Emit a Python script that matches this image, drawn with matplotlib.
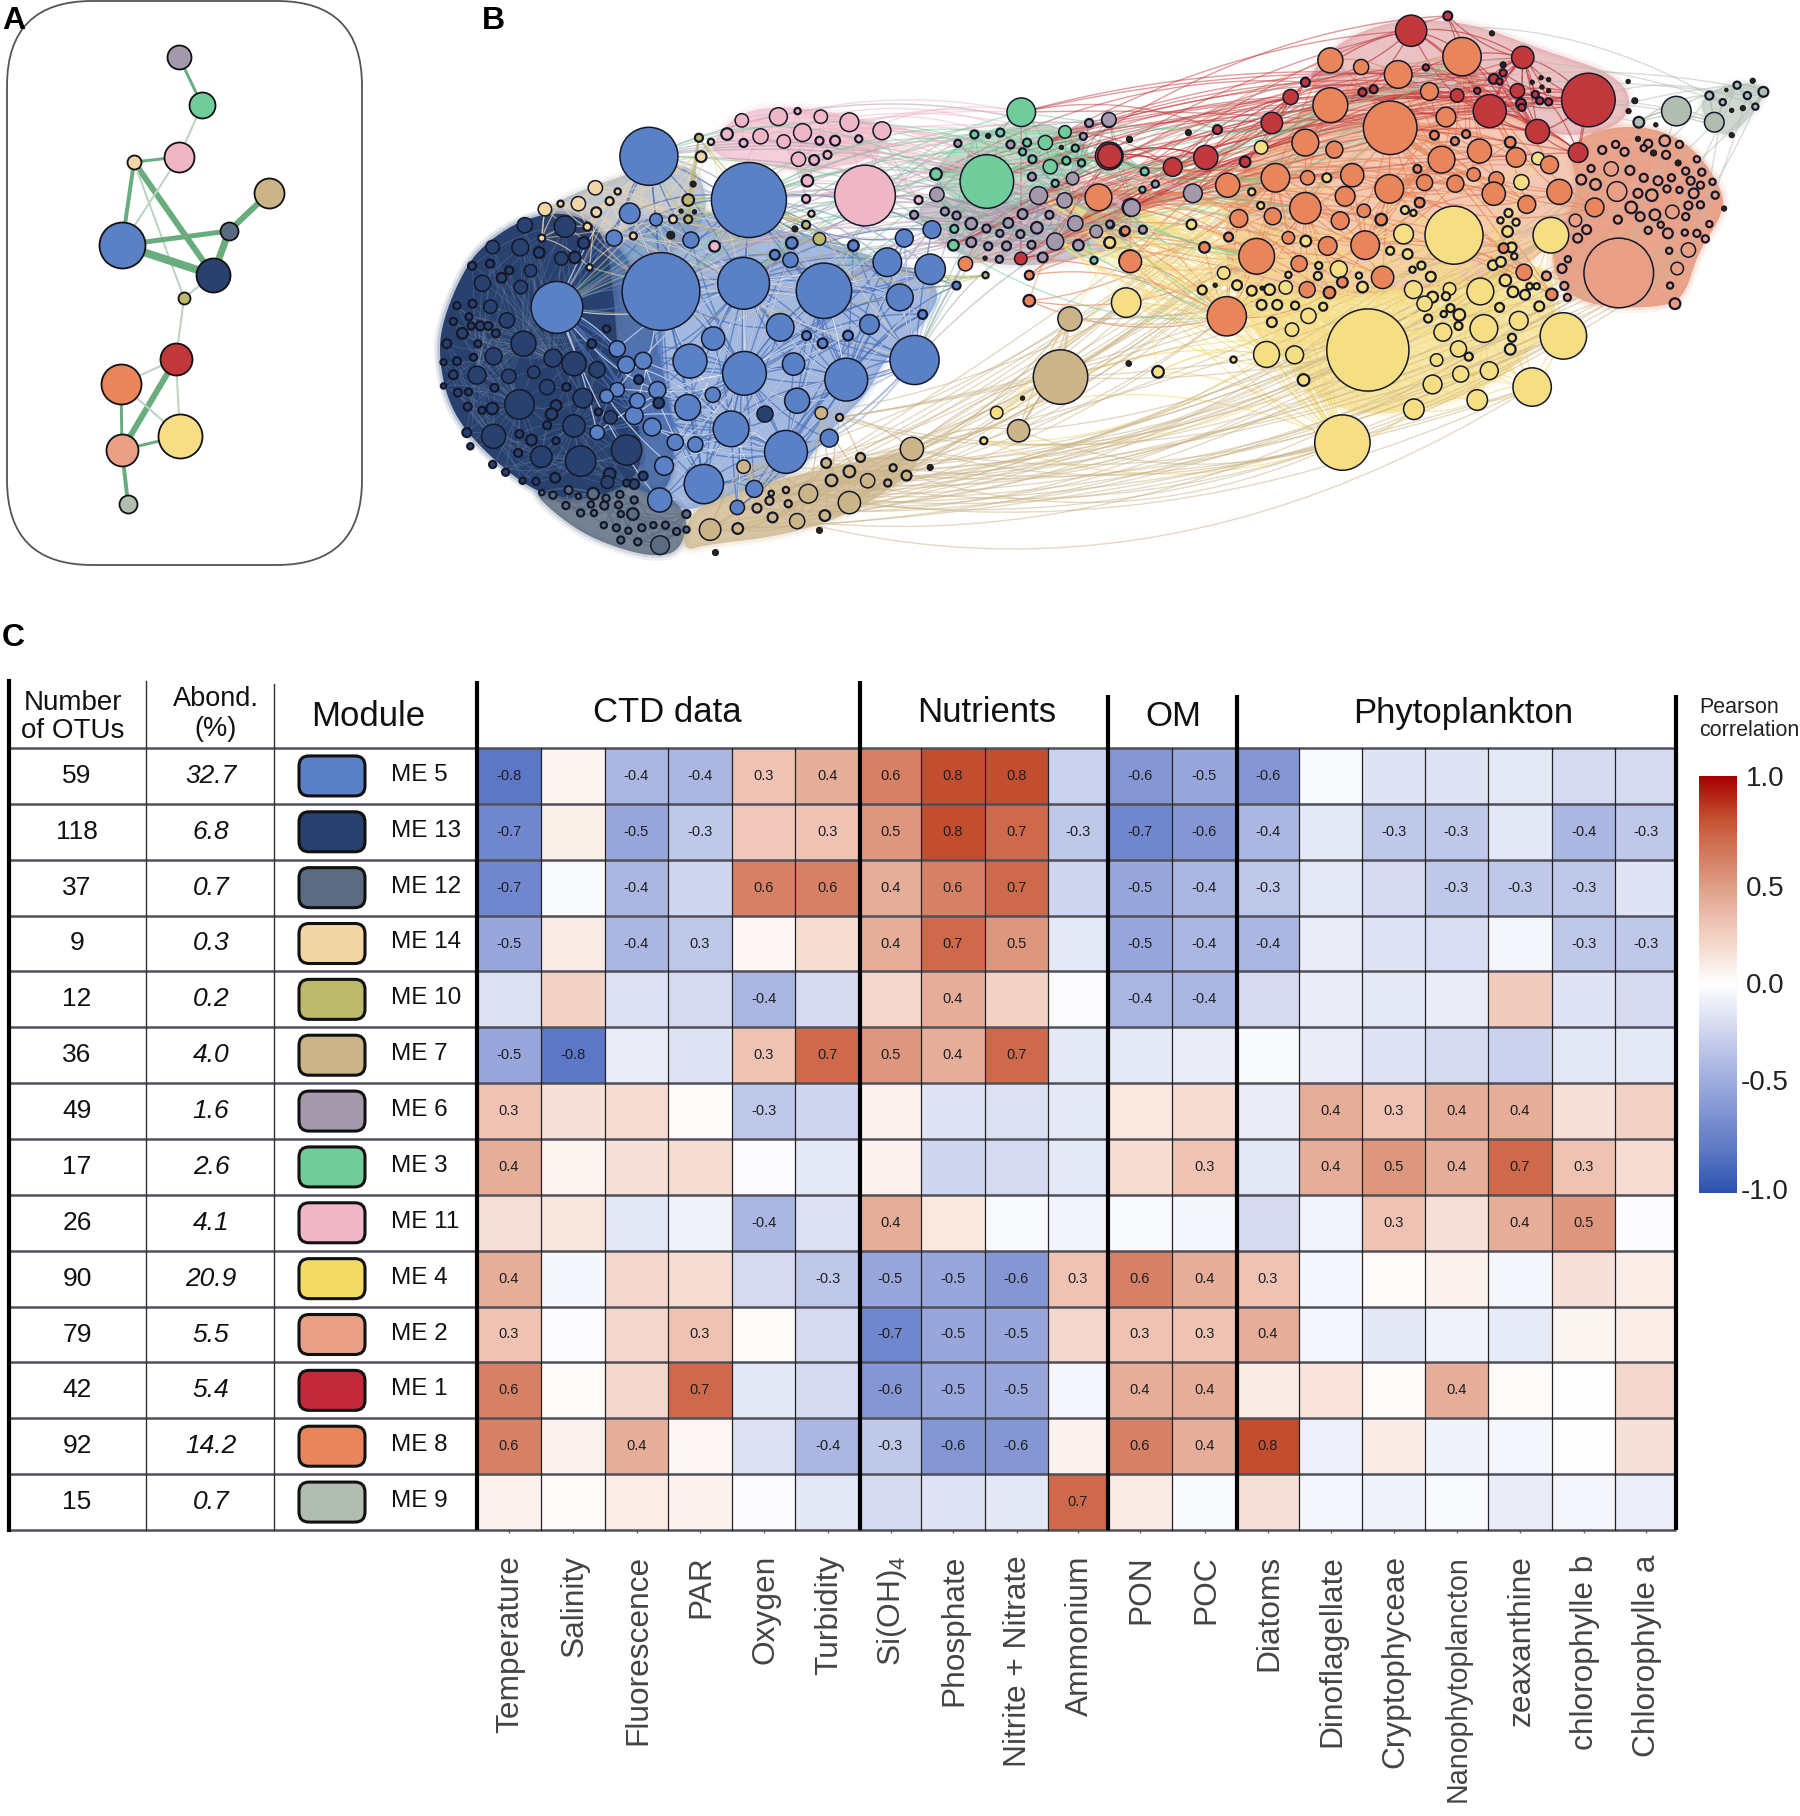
import numpy as np
import matplotlib
matplotlib.use("Agg")
import matplotlib.pyplot as plt
from matplotlib.collections import LineCollection
from matplotlib.colors import LinearSegmentedColormap
from matplotlib.patches import FancyBboxPatch, Polygon
from matplotlib.transforms import ScaledTranslation

plt.rcParams["font.family"] = ["Liberation Sans", "DejaVu Sans"]
plt.rcParams["mathtext.default"] = "regular"

W, H = 1800, 1816

# table / heatmap
modules = ["ME 5", "ME 13", "ME 12", "ME 14", "ME 10", "ME 7", "ME 6", "ME 3", "ME 11", "ME 4", "ME 2", "ME 1", "ME 8", "ME 9"]
n_otus = ["59", "118", "37", "9", "12", "36", "49", "17", "26", "90", "79", "42", "92", "15"]
abond = ["32.7", "6.8", "0.7", "0.3", "0.2", "4.0", "1.6", "2.6", "4.1", "20.9", "5.5", "5.4", "14.2", "0.7"]
module_colors = ["#5a80c6", "#28416f", "#5c6c80", "#f2d6a6", "#bcb96c", "#cbb488", "#a499aa", "#70cc9a", "#efb6c6", "#f3da64", "#e99f86", "#c3293a", "#e8855a", "#b2bdb2"]
variables = ["Temperature", "Salinity", "Fluorescence", "PAR", "Oxygen", "Turbidity", "Si(OH)$_4$", "Phosphate", "Nitrite + Nitrate", "Ammonium", "PON", "POC", "Diatoms", "Dinoflagellate", "Cryptophyceae", "Nanophytoplancton", "zeaxanthine", "chlorophylle b", "Chlorophylle a"]
groups = ["CTD data", "Nutrients", "OM", "Phytoplankton"]
group_edges = [0, 6, 10, 12, 19]
corr = np.array([
    [-0.8, 0.05, -0.4, -0.4, 0.3, 0.4, 0.6, 0.8, 0.8, -0.25, -0.6, -0.5, -0.6, -0.03, -0.15, -0.15, -0.12, -0.2, -0.2],
    [-0.7, 0.08, -0.5, -0.3, 0.28, 0.3, 0.5, 0.8, 0.7, -0.3, -0.7, -0.6, -0.4, -0.12, -0.3, -0.3, -0.13, -0.4, -0.3],
    [-0.7, -0.03, -0.4, -0.22, 0.6, 0.6, 0.4, 0.6, 0.7, -0.22, -0.5, -0.4, -0.3, -0.12, -0.2, -0.3, -0.3, -0.3, -0.15],
    [-0.5, 0.1, -0.4, -0.3, 0.04, 0.17, 0.4, 0.7, 0.5, -0.12, -0.5, -0.4, -0.4, -0.1, -0.15, -0.18, -0.05, -0.3, -0.3],
    [-0.17, 0.22, -0.17, -0.2, -0.4, -0.2, 0.2, 0.4, 0.22, -0.02, -0.4, -0.4, -0.2, -0.1, -0.12, -0.1, 0.25, -0.15, -0.2],
    [-0.5, -0.8, -0.1, -0.15, 0.3, 0.7, 0.5, 0.4, 0.7, -0.12, -0.12, -0.1, -0.03, -0.1, -0.15, -0.2, -0.25, -0.13, -0.12],
    [0.3, 0.15, 0.17, 0.02, -0.3, -0.22, 0.07, -0.15, -0.17, -0.12, 0.12, 0.17, -0.1, 0.4, 0.3, 0.4, 0.4, 0.15, 0.22],
    [0.4, 0.05, 0.15, 0.17, -0.02, -0.12, 0.07, -0.22, -0.2, -0.12, 0.17, 0.3, -0.13, 0.4, 0.5, 0.4, 0.7, 0.3, 0.17],
    [0.15, 0.13, -0.14, -0.07, -0.4, -0.17, 0.4, 0.12, -0.03, -0.06, -0.03, -0.04, -0.2, -0.06, 0.3, 0.15, 0.4, 0.5, -0.02],
    [0.4, -0.04, 0.2, 0.17, -0.2, -0.3, -0.5, -0.5, -0.6, 0.3, 0.6, 0.4, 0.3, -0.04, 0.03, 0.07, -0.05, 0.15, 0.09],
    [0.3, -0.02, 0.2, 0.3, 0.03, -0.2, -0.7, -0.5, -0.5, 0.2, 0.3, 0.3, 0.4, -0.05, -0.13, -0.07, -0.11, 0.05, 0.09],
    [0.6, 0.02, 0.2, 0.7, -0.13, -0.2, -0.6, -0.5, -0.5, -0.05, 0.4, 0.4, 0.1, 0.14, 0.03, 0.4, 0.03, -0.01, 0.2],
    [0.6, 0.07, 0.4, 0.04, -0.17, -0.4, -0.3, -0.6, -0.6, 0.07, 0.6, 0.4, 0.8, -0.08, 0.1, -0.07, -0.05, -0.01, 0.15],
    [0.07, 0.03, 0.09, 0.06, -0.02, -0.13, -0.2, -0.15, -0.13, 0.7, 0.1, -0.03, 0.15, -0.04, -0.07, -0.03, -0.1, -0.05, -0.09],
])
# printed without the minus sign in the original table
label_override = {(3, 3): "0.3"}
cbar_ticks = [1.0, 0.5, 0.0, -0.5, -1.0]

# panel A: module network
a_nodes = {
    "ME 6": (179, 57, 12), "ME 3": (202, 105, 13), "ME 11": (179, 157, 15), "ME 14": (134, 162, 7),
    "ME 7": (269, 193, 15), "ME 5": (122, 245, 23), "ME 12": (229, 231, 9), "ME 13": (213, 275, 17),
    "ME 10": (184, 298, 6), "ME 1": (176, 359, 16), "ME 8": (121, 384, 20), "ME 4": (180, 436, 22),
    "ME 2": (122, 450, 16), "ME 9": (128, 504, 9),
}
a_edges = [
    ("ME 6", "ME 3", 3, 0), ("ME 3", "ME 11", 2, 1), ("ME 11", "ME 14", 3, 0), ("ME 14", "ME 5", 4, 0),
    ("ME 14", "ME 13", 6, 0), ("ME 14", "ME 10", 2, 1), ("ME 11", "ME 5", 2, 1), ("ME 5", "ME 12", 5, 0),
    ("ME 5", "ME 13", 8, 0), ("ME 12", "ME 13", 7, 0), ("ME 12", "ME 7", 6, 0), ("ME 13", "ME 10", 2, 1),
    ("ME 10", "ME 1", 2, 1), ("ME 1", "ME 8", 2, 1), ("ME 1", "ME 4", 2, 1), ("ME 1", "ME 2", 6, 0),
    ("ME 8", "ME 2", 3, 0), ("ME 8", "ME 4", 2, 1), ("ME 2", "ME 4", 3, 0), ("ME 2", "ME 9", 4, 0),
]

# panel B: OTU nodes read as (x, y, r) from the left part of the network
left_nodes = {
    "ME 5": [(468,422,65),(692,540,84),(495,787,87),(680,765,58),(860,785,62),(262,830,58),(1002,708,32),(1098,727,34),(1030,803,30),(1040,643,20),(1102,620,20),(762,884,31),(612,914,26),(560,975,38),(682,1008,49),(792,983,25),(910,1025,48),(1063,972,55),(962,876,22),(800,1082,28),(555,1100,29),(611,1066,17),(652,1158,40),(775,1220,48),(591,1307,44),(492,1350,27),(502,1258,21),(475,1153,20),(435,1122,20),(442,1082,17),(397,942,18),(455,974,19),(417,985,19),(487,1053,19),(397,1052,16),(373,1070,15),(352,1168,16),(527,1194,18),(572,1200,17),(872,1183,20),(704,1320,19),(666,1370,16),(425,576,23),(484,593,14),(390,643,18),(562,648,18),(785,702,17),(788,656,13),(750,688,11),(926,663,12),(1081,849,10),(914,906,11),(857,927,11),(821,906,10),(1157,771,9)],
    "ME 13": [(728,1118,18),(190,608,17),(280,612,24),(118,667,15),(180,668,19),(222,682,12),(272,698,15),(302,695,13),(322,656,13),(203,731,14),(95,765,18),(181,775,15),(72,718,9),(112,712,9),(138,750,11),(155,730,9),(113,828,15),(150,865,17),(73,820,9),(38,825,8),(65,855,8),(30,868,8),(70,880,8),(90,880,10),(108,880,9),(50,900,12),(125,900,9),(15,928,10),(85,928,8),(187,928,28),(120,962,19),(38,975,9),(75,965,8),(8,978,7),(253,967,20),(300,982,27),(340,928,10),(352,998,18),(210,1005,14),(154,1016,16),(83,1013,20),(30,1012,10),(240,1045,17),(122,1047,9),(8,1042,6),(40,1060,9),(64,1058,8),(62,1098,9),(178,1092,33),(283,1045,9),(320,1075,22),(260,1095,12),(117,1103,13),(94,1108,8),(250,1118,13),(300,1150,25),(240,1148,9),(205,1188,12),(178,1172,9),(120,1178,27),(60,1168,10),(260,1190,8),(68,1205,7),(382,1127,15),(355,1112,8),(418,1215,34),(227,1233,24),(315,1245,34),(175,1223,9),(118,1254,8),(147,1275,8),(380,1280,13),(375,1302,14),(215,1300,8),(185,1298,7),(258,1290,11),(445,1025,10),(490,1088,12),(455,1285,10),(435,1307,11),(418,1304,8),(373,888,8)],
    "ME 12": [(228,1330,6),(253,1337,8),(288,1323,9),(343,1333,13),(310,1340,6),(372,1345,8),(403,1335,8),(435,1350,8),(282,1365,8),(338,1362,7),(315,1385,8),(345,1385,7),(368,1365,9),(400,1363,8),(432,1388,13),(405,1388,7),(367,1418,7),(395,1425,8),(422,1433,7),(452,1425,8),(478,1418,7),(505,1418,8),(405,1458,8),(443,1463,8),(493,1472,21),(530,1435,8),(552,1430,7),(552,1388,9)],
    "ME 14": [(235,565,15),(310,550,16),(348,507,16),(270,550,7),(380,543,9),(398,517,7),(350,573,11),(330,612,9),(228,643,8),(433,637,8),(335,722,7),(607,383,7),(585,423,12),(832,577,7),(522,592,9)],
    "ME 10": [(556,540,13),(580,372,9),(556,592,9),(850,645,14),(820,607,9),(1222,743,7)],
    "ME 11": [(676,325,15),(758,315,20),(853,315,15),(917,330,21),(990,353,20),(801,300,7),(643,362,13),(718,368,17),(812,358,20),(770,382,15),(680,386,9),(850,380,9),(885,380,11),(938,375,8),(803,430,16),(838,432,11),(868,418,9),(823,488,13),(820,537,9),(952,528,68),(615,665,12),(1072,540,9)],
    "ME 7": [(1390,1018,61),(1411,861,27),(1296,1163,25),(1057,1212,26),(605,1430,24),(667,1427,12),(680,1260,15),(854,1115,14),(895,1127,8),(917,1357,25),(825,1333,21),(800,1407,17),(862,1392,12),(745,1397,11),(710,1372,10),(780,1360,8),(738,1352,9),(742,1332,6),(775,1323,7),(877,1297,13),(865,1250,11),(917,1273,13),(958,1298,16),(942,1235,10),(1003,1304,8),(1015,1263,8),(1045,1284,11)],
    "ME 4": [(1247,1114,14),(1218,1190,8),(1537,817,33),(1500,655,12)],
    "ME 3": [(1302,303,32),(1225,490,60),(1111,470,13),(1197,363,9),(1255,358,9),(1400,356,14),(1356,385,16),(1315,385,9),(1305,410,8),(1327,430,9),(1367,450,16),(1403,434,9),(1437,440,8),(1423,400,8),(1152,618,9),(1150,662,12),(1465,703,8),(1378,495,8)],
    "ME 6": [(1498,325,16),(1454,332,9),(1441,368,8),(1160,387,8),(1278,390,9),(1113,525,16),(1326,477,9),(1417,482,14),(1341,528,20),(1399,541,17),(1548,560,20),(1062,580,9),(1131,571,9),(1157,582,9),(1305,578,11),(1365,580,9),(1423,603,17),(1502,607,8),(1190,604,13),(1273,602,11),(1224,617,9),(1337,615,13),(1254,630,8),(1300,632,9),(1190,654,11),(1228,665,9),(1269,664,10),(1325,661,9),(1378,652,19),(1430,662,12),(1470,625,14),(1350,695,11),(1253,700,8)],
    "ME 1": [(1499,421,31),(1301,698,14)],
    "ME 8": [(1475,533,30),(1545,704,24),(1177,712,16),(1320,812,13),(1320,743,10),(1535,623,10)],
}
left_dots = [(1305,1075,5),(1098,1262,7),(850,1432,7),(617,1492,7),(1543,982,6),(1545,378,6),(1228,367,6),(1392,398,5),(1221,697,5),(567,497,7),(540,570,5),(570,572,5),(795,618,7),(517,635,9)]

# the right part of the network
right_nodes = {
    "ME 1": [(697,83,35),(779,43,10),(947,155,25),(1094,270,60),(873,300,37),(980,355,27),(1071,412,22),(385,332,24),(22,421,27),(163,451,21),(237,425,27),(325,437,12),(427,262,17),(263,350,10),(935,245,16),(800,258,15),(882,213,11),(460,222,10),(613,241,9),(588,249,9),(975,255,8),(985,272,8),(1005,275,8),(943,280,11),(945,290,8),(903,197,8),(730,182,7),(895,220,7),(845,245,7)],
    "ME 8": [(516,163,28),(585,181,17),(668,201,31),(811,153,43),(738,247,20),(516,284,39),(650,345,60),(775,316,22),(460,385,30),(525,404,19),(749,365,10),(795,381,9),(820,362,9),(919,384,12),(850,408,27),(765,431,30),(932,425,22),(393,480,32),(286,500,27),(565,473,26),(465,480,16),(648,510,32),(549,530,22),(460,562,35),(727,493,18),(796,496,19),(837,471,15),(888,484,17),(882,523,26),(711,456,9),(1007,445,20),(1029,518,28),(956,552,20),(591,569,15),(538,596,20),(716,547,11),(311,590,20),(387,584,19),(630,593,13),(351,692,40),(594,662,32),(510,664,21),(422,642,14),(446,712,18),(633,749,25),(543,762,12),(464,782,18),(514,790,13),(950,735,18),(284,854,44),(68,706,25),(904,670,11),(1012,795,13),(234,668,12),(288,640,10),(1108,560,21)],
    "ME 2": [(1162,737,78),(1158,517,22),(1145,456,16),(1175,410,9),(1155,390,8),(1228,388,9),(1265,380,12),(1218,400,7),(1268,418,9),(1298,390,8),(1337,430,7),(1100,455,8),(1125,405,9),(1078,485,11),(1110,498,12),(1187,460,10),(1218,480,9),(1250,488,10),(1280,480,8),(1312,462,8),(1348,465,8),(1323,488,9),(1345,500,8),(1372,491,7),(1205,522,10),(1236,527,13),(1270,510,8),(1298,513,7),(1330,522,11),(1378,527,8),(1190,560,13),(1210,585,10),(1243,580,12),(1282,572,15),(1318,555,9),(1345,553,8),(1160,593,9),(1312,585,8),(1365,605,7),(1256,607,7),(1228,622,8),(1272,630,11),(1310,628,7),(1337,630,8),(1356,645,8),(1065,595,14),(1090,620,10),(1070,643,10),(1318,675,16),(1275,677,7),(1293,725,14),(1277,771,7),(1288,820,12),(1048,700,7),(1035,725,10),(1040,772,9),(1047,803,8),(1000,745,10)],
    "ME 4": [(793,635,65),(1010,635,40),(600,945,92),(543,1195,62),(1038,907,52),(968,1045,43),(852,787,30),(860,887,31),(373,957,29),(436,958,20),(680,632,22),(703,1105,23),(845,1080,23),(745,1038,21),(808,1010,18),(872,1001,20),(754,972,14),(803,942,18),(938,866,21),(768,897,20),(702,782,20),(535,727,19),(277,737,14),(467,853,17),(430,890,15),(385,870,11),(362,823,11),(397,823,11),(437,825,9),(500,828,9),(416,776,15),(380,782,12),(340,785,11),(307,770,11),(229,783,10),(456,1026,13),(461,651,12),(490,717,8),(488,745,9),(580,744,7),(422,742,7),(588,775,12),(650,677,9),(689,686,11),(700,728,7),(720,717,9),(741,747,11),(783,780,14),(745,802,12),(727,820,17),(775,800,9),(785,832,9),(805,850,13),(735,860,9),(770,848,7),(803,880,9),(826,963,9),(923,912,9),(919,943,12),(895,830,10),(925,788,12),(952,796,11),(908,757,13),(962,773,7),(978,773,7),(984,827,11),(880,716,11),(898,707,11),(922,668,11),(928,692,7),(913,625,12),(932,600,8),(897,595,7),(915,575,9),(981,428,14),(944,492,17),(361,398,15),(360,555,8),(340,518,8),(205,606,11),(22,655,12),(508,480,10),(683,567,9),(702,575,7),(130,1004,13),(299,971,7)],
    "ME 9": [(1291,300,33),(1376,330,22),(1365,258,9),(1395,276,7),(1427,230,8),(1450,258,8),(1486,248,11),(1468,288,7),(1207,330,12)],
    "ME 6": [(20,323,16),(208,522,21),(71,561,19),(22,605,8),(96,620,9),(54,625,10),(124,497,8)],
    "ME 3": [(100,463,9),(95,512,7)],
}
right_dots = [(198,358,7),(66,376,7),(64,981,6),(258,770,5),(363,778,5),(1205,375,6),(1240,413,7),(1295,440,7),(1462,218,6),(1403,243,4),(1415,298,5),(1440,292,6),(1415,365,6),(1183,220,5),(1198,272,7),(1184,300,6),(1245,337,5),(988,210,5),(1005,215,5),(968,222,5),(990,235,5),(1005,245,5),(903,175,7),(878,90,6),(1398,563,6)]

# outline of the dense edge clouds
left_blobs = [
    ("grey", 0.5, [(220,570),(340,500),(560,420),(610,560),(540,680),(370,740),(240,660)]),
    ("ME 5", 0.55, [(370,620),(560,560),(760,620),(1000,700),(1130,770),(1085,880),(1000,960),(960,1060),(900,1130),(850,1200),(800,1280),(640,1340),(540,1390),(450,1300),(420,1000)]),
    ("ME 12", 0.85, [(200,1320),(300,1340),(450,1290),(560,1380),(540,1490),(470,1505),(350,1460),(270,1400)]),
    ("mid", 0.8, [(350,640),(420,680),(470,850),(500,1000),(530,1200),(510,1340),(420,1320),(370,1000)]),
    ("ME 13", 1.0, [(0,880),(60,710),(120,640),(190,590),(280,570),(370,620),(390,800),(400,1000),(450,1150),(450,1300),(300,1360),(200,1320),(100,1220),(30,1120),(0,1000)]),
    ("ME 7", 0.75, [(560,1380),(640,1340),(800,1280),(1000,1230),(1090,1200),(1050,1290),(900,1400),(750,1450),(600,1470),(540,1490)]),
    ("ME 11", 0.65, [(600,400),(660,310),(750,285),(880,300),(980,340),(1010,370),(950,440),(880,450),(830,470),(700,440),(640,430)]),
    ("ME 3", 0.5, [(1110,440),(1180,380),(1240,350),(1350,330),(1440,370),(1460,440),(1420,500),(1300,570),(1180,560),(1120,510)]),
    ("ME 6", 0.55, [(1060,560),(1130,530),(1300,570),(1440,500),(1568,520),(1568,640),(1480,680),(1350,720),(1200,710),(1100,640)]),
]
right_blobs = [
    ("ME 4", 0.7, [(290,780),(500,800),(800,770),(1000,690),(1030,850),(960,950),(880,1040),(700,1120),(520,1110),(440,1000),(350,900)]),
    ("ME 8", 0.45, [(350,400),(500,250),(700,230),(900,300),(1060,380),(1080,520),(1000,680),(900,750),(650,790),(450,800),(280,760),(280,560)]),
    ("ME 1", 0.3, [(450,240),(520,120),(660,50),(830,60),(980,130),(1180,210),(1190,330),(1040,380),(900,300),(700,250),(560,250)]),
    ("ME 2", 0.95, [(1040,380),(1190,330),(1320,380),(1400,520),(1390,590),(1340,680),(1310,800),(1260,830),(1120,830),(1040,790),(1000,680),(1080,520)]),
    ("ME 9", 0.6, [(1340,260),(1430,220),(1490,230),(1490,260),(1440,340),(1400,370),(1360,340)]),
]

# module pairs linked by long arcs: from, to, bulge (+ goes down)
long_links = [
    ("ME 7", "ME 4", 0.07), ("ME 7", "ME 8", 0.05), ("ME 7", "ME 2", 0.07), ("ME 4", "ME 6", 0.07),
    ("ME 8", "ME 6", -0.06), ("ME 1", "ME 3", -0.05), ("ME 1", "ME 6", -0.045), ("ME 6", "ME 5", -0.08),
    ("ME 11", "ME 6", -0.07), ("ME 11", "ME 3", -0.07), ("ME 3", "ME 5", -0.11), ("ME 14", "ME 5", 0.04),
    ("ME 10", "ME 5", 0.06), ("ME 9", "ME 1", -0.07), ("ME 9", "ME 2", 0.1), ("ME 3", "ME 8", 0.06),
]


def chaikin(points, rounds=3):
    pts = np.array(points, dtype=float)
    for _ in range(rounds):
        nxt = np.roll(pts, -1, axis=0)
        pts = np.column_stack([0.75 * pts + 0.25 * nxt, 0.25 * pts + 0.75 * nxt]).reshape(-1, 2)
    return pts


def arc(p0, p1, bulge, n=24):
    t = np.linspace(0, 1, n)[:, None]
    p0 = np.array(p0)
    p1 = np.array(p1)
    ctrl = (p0 + p1) / 2 + np.array([0, bulge * np.hypot(*(p1 - p0))])
    return (1 - t) ** 2 * p0 + 2 * t * (1 - t) * ctrl + t ** 2 * p1


def left_px(x, y, r=0):
    return 440 + x / 2.24, y / 2.7, r / 2.24


def right_px(x, y, r=0):
    return 1100 + x / 2.24, y / 2.7, r / 2.24


def radius_to_s(r):
    return (2 * r * 72 / 100) ** 2


def add_blob(ax, outline, color, alpha):
    pts = chaikin(outline)
    # two faint outlines so the cloud fades out instead of ending on a hard edge
    for lw, a in [(8, 0.12), (4, 0.2)]:
        ax.add_patch(Polygon(pts, closed=True, fill=False, edgecolor=color, alpha=alpha * a, lw=lw, joinstyle="round", zorder=1))
    ax.add_patch(Polygon(pts, closed=True, facecolor=color, edgecolor="none", alpha=alpha, zorder=1))


color_of = dict(zip(modules, module_colors))
color_of["ME 4"] = "#f6de84"
color_of["ME 1"] = "#c0383c"
color_of["grey"] = "#8a93a0"
color_of["mid"] = "#3d5f9c"

nodes = {}
for name, pts in left_nodes.items():
    nodes.setdefault(name, []).extend(left_px(*p) for p in pts)
for name, pts in right_nodes.items():
    nodes.setdefault(name, []).extend(right_px(*p) for p in pts)
nodes = {k: np.array(v) for k, v in nodes.items()}

fig = plt.figure(figsize=(W / 100, H / 100), dpi=100, facecolor="white")

# heatmap, columns are not quite even in the original
col_x = np.array([477, 541, 605, 668, 732, 795, 860, 921, 985, 1048, 1108, 1172, 1237, 1299, 1362, 1425, 1488, 1552, 1615, 1676])
col_x0, col_x1 = col_x[0], col_x[-1]
row_y0, row_y1 = 748, 1530
ax_hm = fig.add_axes([col_x0 / W, 1 - row_y1 / H, (col_x1 - col_x0) / W, (row_y1 - row_y0) / H])
cmap = LinearSegmentedColormap.from_list("pearson", [
    (0.0, "#2c52ae"), (0.1, "#5d78c5"), (0.25, "#98a6dc"), (0.35, "#c0c8ea"), (0.5, "#ffffff"),
    (0.65, "#efc3b3"), (0.75, "#dd9880"), (0.85, "#cf6a4c"), (0.9, "#c45030"), (1.0, "#a80000")])
n_row, n_col = corr.shape
col_mid = (col_x[:-1] + col_x[1:]) / 2
ax_hm.pcolormesh(col_x, np.arange(n_row + 1), corr, cmap=cmap, vmin=-1, vmax=1)
ax_hm.set_xlim(col_x0, col_x1)
ax_hm.set_ylim(n_row, 0)
for i in range(n_row):
    for j in range(n_col):
        if abs(corr[i, j]) >= 0.3:
            label = label_override.get((i, j), "%.1f" % corr[i, j])
            ax_hm.text(col_mid[j], i + 0.5, label, ha="center", va="center", fontsize=10.5, color="#1e1e1e")
ax_hm.set_yticks([])
ax_hm.set_xticks(col_mid)
ax_hm.set_xticklabels(variables, rotation=90, fontsize=22.8, color="#444444")
ax_hm.tick_params(axis="x", length=2, width=1, color="#666666", pad=16)
shift = ScaledTranslation(1.5 / 100, 0, fig.dpi_scale_trans)
for lab in ax_hm.get_xticklabels():
    lab.set_transform(lab.get_transform() + shift)
    if lab.get_text() == "Nanophytoplancton":
        lab.set_fontsize(20.6)
for s in ax_hm.spines.values():
    s.set_visible(False)

# colour bar
ax_cb = fig.add_axes([1699 / W, 1 - 1193 / H, 38 / W, 417 / H])
ax_cb.imshow(np.linspace(1, -1, 256)[:, None], aspect="auto", cmap=cmap, vmin=-1, vmax=1, extent=[0, 1, -1, 1])
ax_cb.axis("off")

# overlay in figure pixels for the table and the two networks
ax = fig.add_axes([0, 0, 1, 1], zorder=5)
ax.set_xlim(0, W)
ax.set_ylim(H, 0)
ax.axis("off")

cbar_label_y = [779, 889, 986, 1083, 1192]
for tick, y in zip(cbar_ticks, cbar_label_y):
    ax.text(1765, y, "%.1f" % tick, ha="center", va="center", fontsize=20, color="#222222")
ax.text(1699, 719, "Pearson\ncorrelation", ha="left", va="center", fontsize=15.5, color="#222222", linespacing=1.15)

# table
row_h = (row_y1 - row_y0) / n_row
for i in range(n_row + 1):
    ax.plot([9, col_x1], [row_y0 + i * row_h] * 2, color="#50505a", lw=1.8, solid_capstyle="butt")
for x in col_x[1:-1]:
    ax.plot([x, x], [row_y0, row_y1], color="#222222", lw=0.9)
ax.plot([146, 146], [681, row_y1], color="#333333", lw=1)
ax.plot([274, 274], [684, row_y1], color="#333333", lw=1)
ax.plot([9, 9], [681, row_y1], color="black", lw=3)
for k, edge in enumerate(group_edges):
    top = 681 if k < 2 else 695
    ax.plot([col_x[edge]] * 2, [top, row_y1], color="black", lw=3, solid_capstyle="butt")

for i in range(n_row):
    yc = row_y0 + (i + 0.5) * row_h
    ax.text(77, yc, n_otus[i], ha="center", va="center", fontsize=19, color="#111111")
    ax.text(211, yc, abond[i], ha="center", va="center", fontsize=19, style="italic", color="#111111")
    ax.add_patch(FancyBboxPatch((299, yc - 20), 66, 40, boxstyle="round,pad=0,rounding_size=10",
                                facecolor=module_colors[i], edgecolor="#111111", lw=2.2))
    ax.text(391, yc - 1, modules[i], ha="left", va="center", fontsize=17.5, color="#111111")

ax.text(73, 717, "Number\nof OTUs", ha="center", va="center", fontsize=20, color="#111111", linespacing=1.12)
ax.text(216, 714, "Abond.\n(%)", ha="center", va="center", fontsize=19.5, color="#111111", linespacing=1.15)
ax.text(368, 716, "Module", ha="center", va="center", fontsize=25, color="#111111")
group_xc = [667, 987, 1173, 1463]
group_y = [713, 713, 717, 713]
for k, g in enumerate(groups):
    ax.text(group_xc[k], group_y[k], g, ha="center", va="center", fontsize=25, color="#111111")

# panel letters
ax.text(2, 21, "A", fontsize=23, fontweight="bold", ha="left", va="center", color="black")
ax.text(482, 21, "B", fontsize=23, fontweight="bold", ha="left", va="center", color="black")
ax.text(2, 638, "C", fontsize=23, fontweight="bold", ha="left", va="center", color="black")

# panel A
ax.add_patch(FancyBboxPatch((7, 1), 355, 564, boxstyle="round,pad=0,rounding_size=85",
                            facecolor="white", edgecolor="#555555", lw=1.3))
for a, b, w, light in a_edges:
    ax.plot([a_nodes[a][0], a_nodes[b][0]], [a_nodes[a][1], a_nodes[b][1]],
            color="#bcd2c2" if light else "#69ad7f", lw=w * 0.72, zorder=2, solid_capstyle="butt")
for name, (x, y, r) in a_nodes.items():
    ax.scatter([x], [y], s=radius_to_s(r), facecolor=color_of[name], edgecolor="#111111", linewidth=1.3, zorder=3)

# panel B clouds
for name, alpha, pts in left_blobs:
    add_blob(ax, [left_px(x, y)[:2] for x, y in pts], color_of[name], alpha)
for name, alpha, pts in right_blobs:
    add_blob(ax, [right_px(x, y)[:2] for x, y in pts], color_of[name], alpha)

# panel B edges: each node is tied to the closest large nodes of its module
for name, pts in nodes.items():
    hubs = pts[np.argsort(-pts[:, 2])[:12]]
    near = 5 if name == "ME 5" else 3
    segs = []
    for i, p in enumerate(pts):
        dist = np.hypot(hubs[:, 0] - p[0], hubs[:, 1] - p[1])
        for h in hubs[np.argsort(dist)[1:near + 1]]:
            segs.append(arc(p[:2], h[:2], 0.18 if i % 2 else -0.18))
    if name == "ME 5":
        ax.add_collection(LineCollection(segs, colors="#4f74ba", linewidths=1.0, alpha=0.75, zorder=1.5))
        ax.add_collection(LineCollection(segs[::3], colors="#eef2fa", linewidths=0.8, alpha=0.7, zorder=1.5))
    elif name == "ME 13":
        ax.add_collection(LineCollection(segs, colors="#7f93ad", linewidths=0.7, alpha=0.28, zorder=1.5))
    else:
        ax.add_collection(LineCollection(segs, colors=color_of[name], linewidths=0.9, alpha=0.7, zorder=1.5))

# long arcs get more curve as they step through the node list
for a, b, bulge in long_links:
    hubs = nodes[b][np.argsort(-nodes[b][:, 2])[:7]]
    segs = []
    for i, p in enumerate(nodes[a]):
        h = hubs[i % len(hubs)]
        segs.append(arc(p[:2], h[:2], bulge * (1 + (i % 4) * 0.7)))
    ax.add_collection(LineCollection(segs, colors=color_of[a], linewidths=1.0, alpha=0.5, zorder=1.6))

for name, pts in nodes.items():
    lw = np.where(pts[:, 2] < 6, 1.6, 1.1)
    ax.scatter(pts[:, 0], pts[:, 1], s=radius_to_s(pts[:, 2]), facecolor=color_of[name],
               edgecolor="#14182a", linewidth=lw, zorder=3)

dots = np.array([left_px(*p) for p in left_dots] + [right_px(*p) for p in right_dots])
ax.scatter(dots[:, 0], dots[:, 1], s=radius_to_s(dots[:, 2]), facecolor="#222222", edgecolor="#111111", linewidth=0.6, zorder=3)

fig.savefig("out.png", dpi=100)
